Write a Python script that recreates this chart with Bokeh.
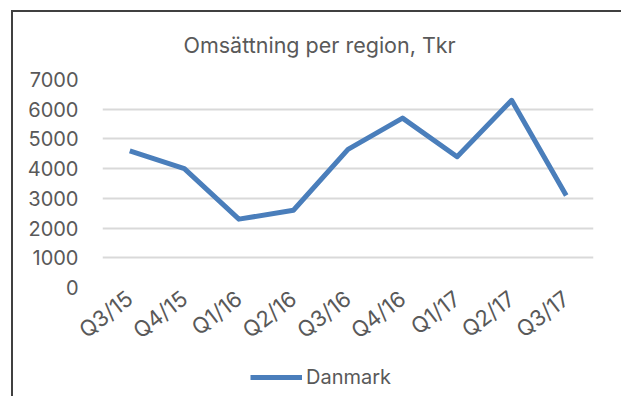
from bokeh.plotting import figure
from bokeh.models import Range1d, FixedTicker, Legend, LegendItem
from bokeh.layouts import column
from bokeh.embed import file_html
from bokeh.resources import INLINE

quarters = ["Q3/15", "Q4/15", "Q1/16", "Q2/16", "Q3/16", "Q4/16", "Q1/17", "Q2/17", "Q3/17"]
danmark = [4600, 4000, 2300, 2600, 4650, 5700, 4400, 6300, 3100]
y_ticks = [0, 1000, 2000, 3000, 4000, 5000, 6000, 7000]
series_name = "Danmark"
title_text = "Omsättning per region, Tkr"

FONT = "Inter"
GREY = "#595959"
BLUE = "#4a7ebb"

p = figure(x_range=quarters, y_range=Range1d(0, 7000),
           width=608, height=350, output_backend="svg", toolbar_location=None,
           min_border_left=89, min_border_right=28, min_border_top=67, min_border_bottom=75,
           title=title_text)

p.title.text_font = FONT
p.title.text_font_size = "21.5px"
p.title.text_font_style = "normal"
p.title.text_color = GREY
p.title.align = "left"
p.title.vertical_align = "top"
p.title.offset = 81
p.title.standoff = 39

p.outline_line_color = None
p.background_fill_color = "white"
p.border_fill_color = "white"

p.xgrid.grid_line_color = None
p.ygrid.grid_line_color = "#d9d9d9"
p.ygrid.grid_line_width = 2

p.yaxis.ticker = FixedTicker(ticks=y_ticks)
for ax in (p.xaxis[0], p.yaxis[0]):
    ax.axis_line_color = None
    ax.major_tick_line_color = None
    ax.minor_tick_line_color = None
    ax.major_label_text_font = FONT
    ax.major_label_text_color = GREY
p.yaxis.major_label_text_font_size = "20px"
p.yaxis.major_label_standoff = 18
p.xaxis.major_label_text_font_size = "22px"
p.xaxis.major_label_orientation = 0.66
p.xaxis.major_label_standoff = 2

p.line(x=quarters, y=danmark, line_color=BLUE, line_width=5, line_join="round")

# legend strip below the chart (its series line lies outside this strip's view,
# so only the legend sample is visible)
pl = figure(width=608, height=36, x_range=quarters, y_range=Range1d(-2, -1),
            output_backend="svg", toolbar_location=None,
            x_axis_location=None, y_axis_location=None,
            min_border_left=0, min_border_right=0, min_border_top=0, min_border_bottom=0)
pl.grid.visible = False
pl.outline_line_color = None
pl.background_fill_color = "white"
pl.border_fill_color = "white"
lr = pl.line(x=quarters, y=danmark, line_color=BLUE, line_width=5)
legend = Legend(items=[LegendItem(label=series_name, renderers=[lr])],
                location=(148, 9), orientation="horizontal",
                border_line_color=None, background_fill_alpha=0,
                label_text_font=FONT, label_text_font_size="20px", label_text_color=GREY,
                glyph_width=52, label_standoff=4, padding=0, margin=0)
pl.add_layout(legend, "center")

layout = column(p, pl)
layout.margin = (12, 0, 0, 13)
layout.styles = {"box-shadow": "-2px -2px 0 0 #404040, 0 -2px 0 0 #404040"}

open("out.html", "w").write(file_html(layout, INLINE))
